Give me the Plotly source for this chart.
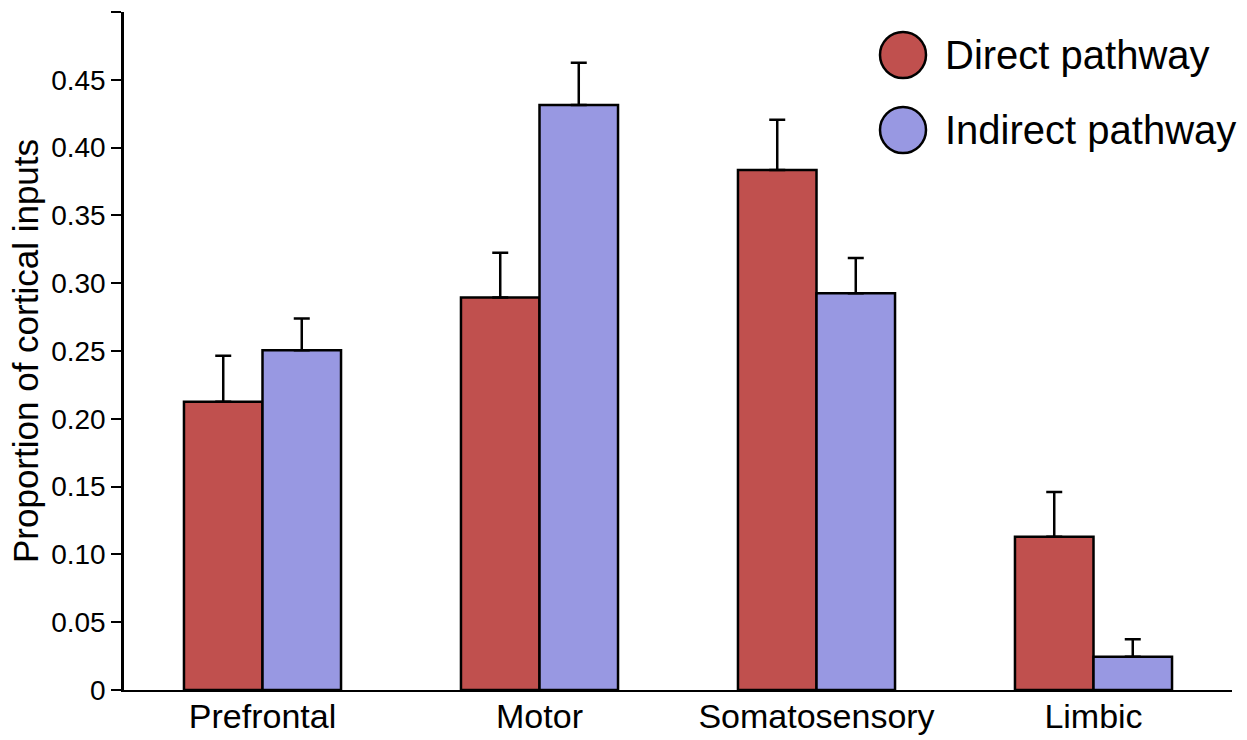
import plotly.graph_objects as go

# Cortical input proportions per region, by striatal pathway
regions = ["Prefrontal", "Motor", "Somatosensory", "Limbic"]
direct_vals = [0.2125, 0.2895, 0.3835, 0.113]
direct_err = [0.034, 0.033, 0.037, 0.033]
indirect_vals = [0.2505, 0.4315, 0.2925, 0.0245]
indirect_err = [0.0235, 0.031, 0.026, 0.013]
y_tickvals = [0, 0.05, 0.10, 0.15, 0.20, 0.25, 0.30, 0.35, 0.40, 0.45, 0.50]
y_ticktext = ["0", "0.05", "0.10", "0.15", "0.20", "0.25", "0.30", "0.35", "0.40", "0.45", ""]

RED = "#C0504E"
BLUE = "#9898E2"
FONT = "Liberation Sans, Arial, sans-serif"

W, H = 1247, 740
M = dict(l=124, r=15, t=12, b=50)

fig = go.Figure()
for name, vals, errs, col in [
    ("Direct pathway", direct_vals, direct_err, RED),
    ("Indirect pathway", indirect_vals, indirect_err, BLUE),
]:
    fig.add_trace(go.Bar(
        x=regions, y=vals, name=name,
        marker=dict(color=col, line=dict(color="black", width=2.5)),
        error_y=dict(type="data", array=errs, arrayminus=[0] * len(errs),
                     symmetric=False, color="black", thickness=2.5, width=8),
        showlegend=False,
    ))

fig.update_layout(
    width=W, height=H, margin=M,
    paper_bgcolor="white", plot_bgcolor="white",
    barmode="group", bargap=0.433, bargroupgap=0,
    font=dict(family=FONT, color="black"),
    xaxis=dict(range=[-0.5, 3.5], showline=True, linecolor="black", linewidth=2,
               ticks="", tickfont=dict(size=34), showgrid=False, zeroline=False,
               ticklabelstandoff=-5, automargin=False),
    yaxis=dict(range=[0, 0.5], tickvals=y_tickvals, ticktext=y_ticktext,
               showline=True, linecolor="black", linewidth=2.5,
               ticks="outside", ticklen=10, tickwidth=2, tickcolor="black",
               tickfont=dict(size=28), showgrid=False, zeroline=False,
               automargin=False,
               title=dict(text="Proportion of cortical inputs", font=dict(size=35),
                          standoff=2)),
)

# Legend drawn as circles with labels
pw = W - M["l"] - M["r"]
ph = H - M["t"] - M["b"]
rad = 23
for cy_px, col, label in [(55, RED, "Direct pathway"), (130, BLUE, "Indirect pathway")]:
    cx = (903 - M["l"]) / pw
    cy = (H - M["b"] - cy_px) / ph
    rx, ry = rad / pw, rad / ph
    fig.add_shape(type="circle", xref="paper", yref="paper",
                  x0=cx - rx, x1=cx + rx, y0=cy - ry, y1=cy + ry,
                  fillcolor=col, line=dict(color="black", width=2.5))
    fig.add_annotation(xref="paper", yref="paper", x=(943 - M["l"]) / pw, y=cy,
                       text=label, showarrow=False, xanchor="left", yanchor="middle",
                       font=dict(size=40, family=FONT, color="black"))

fig.write_html("out.html")
